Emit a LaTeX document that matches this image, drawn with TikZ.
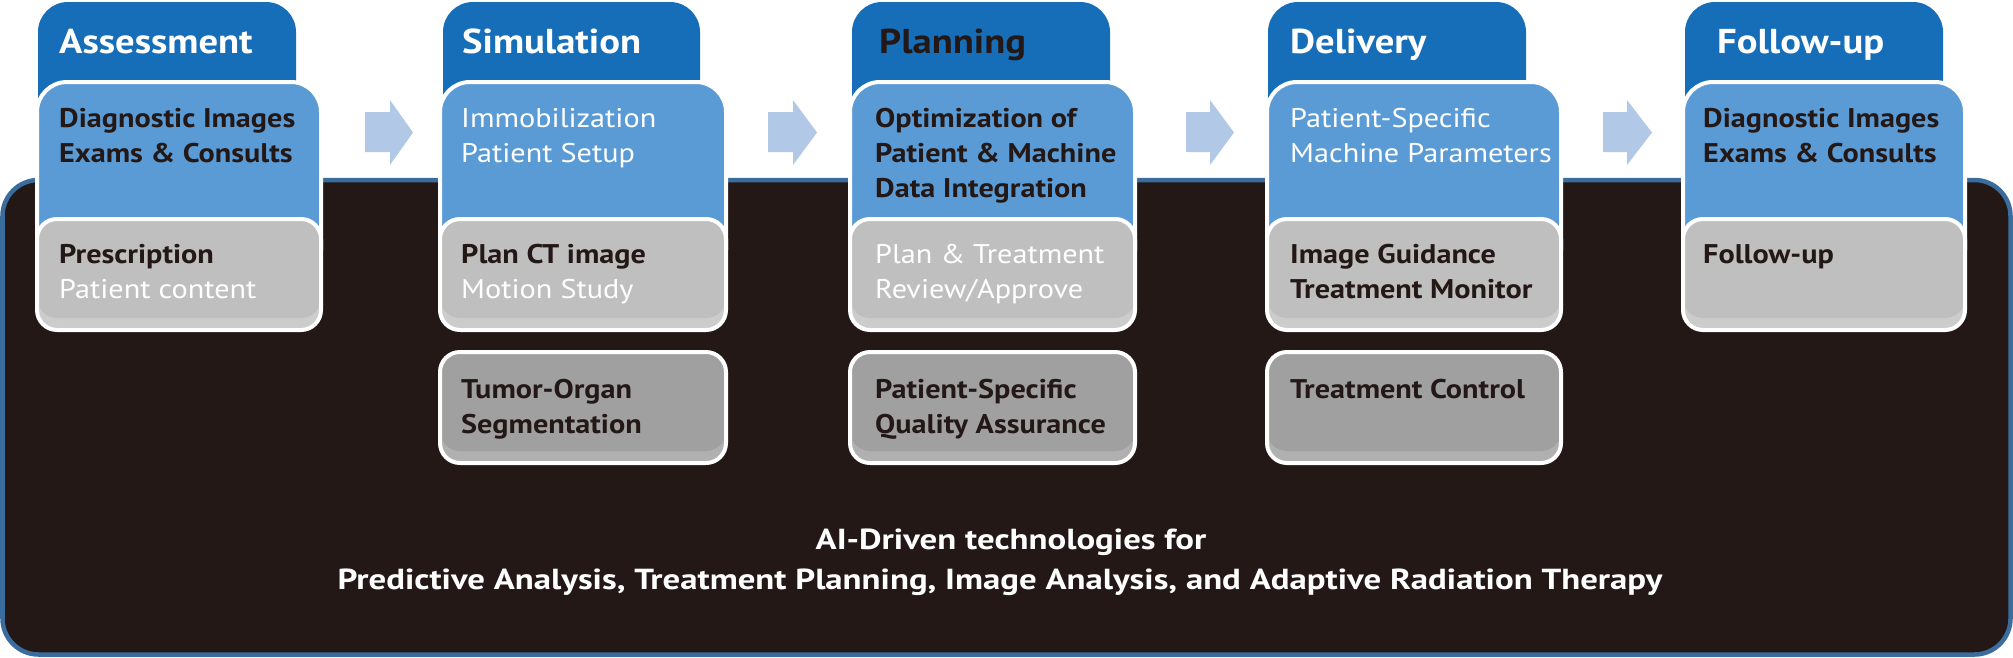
\documentclass[tikz,border=0pt]{standalone}
\usepackage{fontspec}
\setmainfont{PT Sans}[FakeStretch=1.12]
\newfontfamily\capfont{PT Sans}[FakeStretch=1.2]
\definecolor{hdr}{RGB}{22,110,184}
\definecolor{lblue}{RGB}{91,155,213}
\definecolor{lgray}{RGB}{191,191,191}
\definecolor{lgrayhi}{RGB}{204,204,204}
\definecolor{dgray}{RGB}{160,160,160}
\definecolor{dgrayhi}{RGB}{176,176,176}
\definecolor{arrowc}{RGB}{177,201,230}
\definecolor{panelc}{RGB}{35,24,21}
\definecolor{panelb}{RGB}{58,108,158}
\definecolor{ink}{RGB}{35,24,21}
% #1 base colour, #2 highlight colour, #3 left, #4 top, #5 right, #6 bottom
\newcommand\bevelbox[6]{%
  \begin{scope}
    \clip[rounded corners=20] (#3,#4) rectangle (#5,#6);
    \fill[#2] (#3,#4) rectangle (#5,#6);
    \fill[#1, rounded corners=20] (#3,#4) rectangle (#5,#6-12);
  \end{scope}
  \draw[boxedge] (#3,#4) rectangle (#5,#6);
}
\begin{document}
\begin{tikzpicture}[x=1pt,y=-1pt,
  tab/.style={fill=hdr, rounded corners=30},
  bluebox/.style={fill=lblue, draw=white, line width=4, rounded corners=30},
  boxedge/.style={draw=white, line width=4, rounded corners=20},
  blockarrow/.style={fill=arrowc},
  hdrtext/.style={anchor=base west, inner sep=0, text=white, font=\fontsize{34.5}{40}\selectfont\bfseries},
  bodytext/.style={anchor=base west, inner sep=0, align=left, font=\fontsize{27}{35}\selectfont},
  dk/.style={text=ink, font=\fontsize{27}{35}\selectfont\bfseries},
  wt/.style={text=white},
  captext/.style={anchor=base, inner sep=0, text=white, font=\capfont\fontsize{29}{40}\selectfont\bfseries}
]
\useasboundingbox (0,0) rectangle (2013,657);
% panel
\draw[fill=panelc, draw=panelb, line width=4.5, rounded corners=36] (2.5,180) rectangle (2010.5,654.5);

% arrows
\foreach \a/\h/\b in {365/390/413, 768/793/817, 1186/1210/1234, 1603/1627/1652}{
  \fill[blockarrow] (\a,112) -- (\h,112) -- (\h,100) -- (\b,132.5) -- (\h,165) -- (\h,152) -- (\a,152) -- cycle;
}

% column 1
\fill[tab] (38,120) -- (38,2) -- (296,2) -- (296,120);
\draw[bluebox] (37,250) -- (37,82) -- (321,82) -- (321,250);
\bevelbox{lgray}{lgrayhi}{37}{219}{321}{330}
% column 2
\fill[tab] (443,120) -- (443,2) -- (700,2) -- (700,120);
\draw[bluebox] (440,250) -- (440,82) -- (726,82) -- (726,250);
\bevelbox{lgray}{lgrayhi}{440}{219}{726}{330}
\bevelbox{dgray}{dgrayhi}{440}{352}{726}{463}
% column 3
\fill[tab] (852,120) -- (852,2) -- (1110,2) -- (1110,120);
\draw[bluebox] (850,250) -- (850,82) -- (1135,82) -- (1135,250);
\bevelbox{lgray}{lgrayhi}{850}{219}{1135}{330}
\bevelbox{dgray}{dgrayhi}{850}{352}{1135}{463}
% column 4
\fill[tab] (1268,120) -- (1268,2) -- (1526,2) -- (1526,120);
\draw[bluebox] (1267,250) -- (1267,82) -- (1561,82) -- (1561,250);
\bevelbox{lgray}{lgrayhi}{1267}{219}{1561}{330}
\bevelbox{dgray}{dgrayhi}{1267}{352}{1561}{463}
% column 5
\fill[tab] (1685,120) -- (1685,2) -- (1943,2) -- (1943,120);
\draw[bluebox] (1683,250) -- (1683,82) -- (1965,82) -- (1965,250);
\bevelbox{lgray}{lgrayhi}{1683}{219}{1965}{330}

% headers
\node[hdrtext] (h1) at (59,53) {Assessment};
\node[hdrtext] (h2) at (462,53) {Simulation};
\node[hdrtext, text=ink] (h3) at (879,53) {Planning};
\node[hdrtext] (h4) at (1290,53) {Delivery};
\node[hdrtext] (h5) at (1717,53) {Follow-up};

% blue box texts (anchor at baseline of last line)
\node[bodytext, dk] (b1) at (59,162) {Diagnostic Images\\Exams \& Consults};
\node[bodytext, wt] (b2) at (461,162) {Immobilization\\Patient Setup};
\node[bodytext, dk] (b3) at (875,197) {Optimization of\\Patient \& Machine\\Data Integration};
\node[bodytext, wt] (b4) at (1290,162) {Patient-Specific\\Machine Parameters};
\node[bodytext, dk] (b5) at (1703,162) {Diagnostic Images\\Exams \& Consults};

% gray box texts
\node[bodytext] (g1) at (59,298) {\textcolor{ink}{\bfseries Prescription}\\\textcolor{white}{Patient content}};
\node[bodytext] (g2) at (461,298) {\textcolor{ink}{\bfseries Plan CT image}\\\textcolor{white}{Motion Study}};
\node[bodytext, wt] (g3) at (875,298) {Plan \& Treatment\\Review/Approve};
\node[bodytext, dk] (g4) at (1290,298) {Image Guidance\\Treatment Monitor};
\node[bodytext, dk] (g5) at (1703,263) {Follow-up};

% dark gray box texts
\node[bodytext, dk] (d2) at (461,433) {Tumor-Organ\\Segmentation};
\node[bodytext, dk] (d3) at (875,433) {Patient-Specific\\Quality Assurance};
\node[bodytext, dk] (d4) at (1290,398) {Treatment Control};

% bottom caption
\node[captext] (c1) at (1011,549) {AI-Driven technologies for};
\node[captext] (c2) at (1000,589) {Predictive Analysis, Treatment Planning, Image Analysis, and Adaptive Radiation Therapy};
\end{tikzpicture}
\end{document}
